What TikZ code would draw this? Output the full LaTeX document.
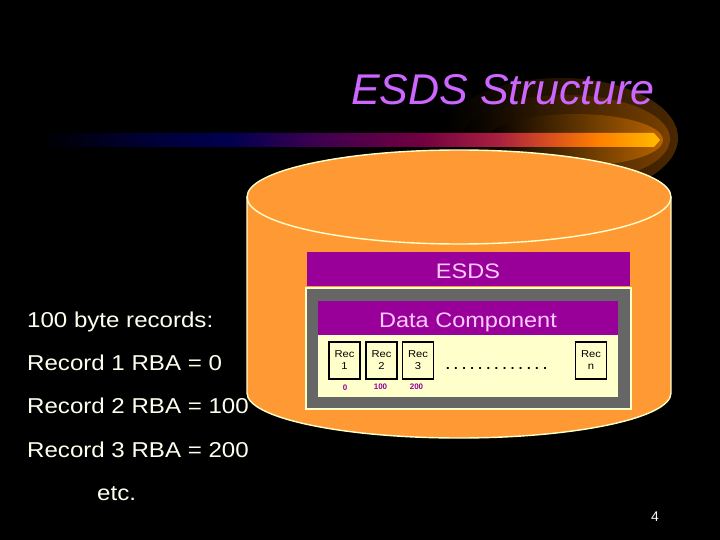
\documentclass[tikz,border=0pt]{standalone}
\usepackage{fontspec}
\setmainfont{Liberation Sans}
\newfontfamily\widefont[FakeStretch=1.12]{Liberation Sans}
\newfontfamily\monofont{Liberation Mono}
\definecolor{cylorange}{HTML}{FF9933}
\definecolor{cream}{HTML}{FFFFCC}
\definecolor{purp}{HTML}{990099}
\definecolor{frame}{HTML}{666666}
\definecolor{titlecol}{HTML}{CC66FF}
\definecolor{txtwhite}{HTML}{FFFFF0}
\definecolor{pinkish}{HTML}{FFCCFF}
\definecolor{bA}{HTML}{000038}
\definecolor{bB}{HTML}{000050}
\definecolor{bC}{HTML}{3A0050}
\definecolor{bD}{HTML}{700040}
\definecolor{bE}{HTML}{A82040}
\definecolor{bF}{HTML}{E05818}
\definecolor{bG}{HTML}{FF8000}
\definecolor{bH}{HTML}{FFBB00}
\definecolor{gA}{HTML}{4A2800}
\definecolor{gB}{HTML}{7A4000}
\definecolor{gC}{HTML}{B86400}
\pgfdeclarehorizontalshading{barshade}{100bp}{%
 color(0bp)=(black);
 color(25bp)=(black);
 color(33.85bp)=(bA);
 color(40.3bp)=(bB);
 color(46.75bp)=(bC);
 color(55.6bp)=(bD);
 color(62bp)=(bE);
 color(66.85bp)=(bF);
 color(70.1bp)=(bG);
 color(75bp)=(bH);
 color(100bp)=(bH)}
\begin{document}
\begin{tikzpicture}[x=1pt,y=-1pt,
  lbl/.style={text=txtwhite, anchor=base west, inner sep=0, font=\widefont\fontsize{21.5}{24}\selectfont},
  barlbl/.style={text=pinkish, anchor=base, inner sep=0, font=\widefont\fontsize{21}{24}\selectfont},
  recbox/.style={draw=black, line width=1.6, fill=cream, minimum width=31, minimum height=37, inner sep=0, align=center, text=black, font=\widefont\fontsize{10}{12}\selectfont},
  rba/.style={text=purp, inner sep=0, font=\bfseries\fontsize{8}{9}\selectfont},
  outline/.style={draw=cream, line width=1.4},
]
\useasboundingbox (0,0) rectangle (720,540);
\fill[black] (0,0) rectangle (720,540);
% glow
\shade[left color=black, right color=gA] (560,138) ellipse[x radius=118, y radius=60];
\shade[left color=black, right color=gB] (566,139) ellipse[x radius=104, y radius=44];
\shade[left color=black, right color=gC] (575,140) ellipse[x radius=88, y radius=26];
% title
\node[text=titlecol, anchor=base, inner sep=0, font=\itshape\fontsize{43}{48}\selectfont] (title) at (503,105) {ESDS Structure};
% bar
\shade[shading=barshade] (40,133) -- (654,133) -- (660,140) -- (654,147) -- (40,147) -- cycle;
% cylinder
\fill[cylorange] (247,197) rectangle (671,393);
\fill[cylorange] (459,393) ellipse[x radius=212, y radius=45];
\draw[outline, fill=cylorange] (459,197) ellipse[x radius=212, y radius=47];
\draw[outline] (247,197) -- (247,393) arc[start angle=180, end angle=0, x radius=212, y radius=45] -- (671,197);
% ESDS bar
\fill[purp] (307,252) rectangle (630,286);
\node[barlbl] (esds) at (468,278) {ESDS};
% frame
\draw[draw=cream, line width=1.2, fill=frame] (306,288) rectangle (631,409);
\fill[purp] (318,301) rectangle (618,335);
\fill[cream] (318,335) rectangle (618,397);
\node[barlbl] (dc) at (468,327) {Data Component};
% records
\node[recbox] (r1) at (344.5,360.5) {Rec\\1};
\node[recbox] (r2) at (381.5,360.5) {Rec\\2};
\node[recbox] (r3) at (418,360.5) {Rec\\3};
\node[recbox] (rn) at (591,360.5) {Rec\\n};
\node[rba] (o1) at (345,387.5) {0};
\node[rba] (o2) at (380.5,387) {100};
\node[rba] (o3) at (416.5,387) {200};
\node[inner sep=0, text=black, font=\monofont\bfseries\fontsize{13.5}{14}\selectfont] (dots) at (496.5,368) {.............};
% left text
\node[lbl] (t1) at (27,327) {100 byte records:};
\node[lbl] (t2) at (27,370) {Record 1 RBA = 0};
\node[lbl] (t3) at (27,413) {Record 2 RBA = 100};
\node[lbl] (t4) at (27,457) {Record 3 RBA = 200};
\node[lbl] (t5) at (97,500) {etc.};
\node[text=white, inner sep=0, font=\fontsize{14}{16}\selectfont] (pg) at (655,517) {4};
\end{tikzpicture}
\end{document}
